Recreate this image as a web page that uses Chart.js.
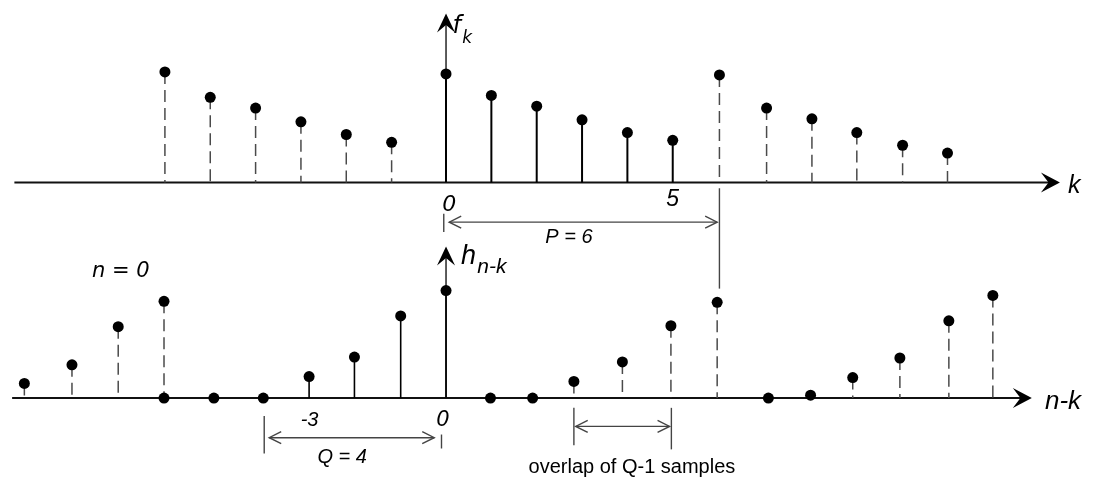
<!DOCTYPE html>
<html>
<head>
<meta charset="utf-8">
<script src="https://cdn.jsdelivr.net/npm/chart.js@4.4.1/dist/chart.umd.min.js"></script>
<style>
  html, body { margin: 0; padding: 0; background: #fff; }
  #wrap { width: 1096px; height: 484px; }
</style>
</head>
<body>
<div id="wrap"><canvas id="conv" width="1096" height="484"></canvas></div>
<script>
// f_k : one period solid, periodic copies dashed
const fLeftK = [-6.2, -5.2, -4.2, -3.2, -2.2, -1.2];
const fLeftVal = [11.3, 8.7, 7.6, 6.2, 4.9, 4.1];
const fMainK = [0, 1, 2, 3, 4, 5];
const fMainVal = [11.1, 8.9, 7.8, 6.4, 5.1, 4.3];
const fRightK = [6.03, 7.07, 8.07, 9.06, 10.07, 11.06];
const fRightVal = [11.0, 7.6, 6.5, 5.1, 3.8, 3.0];

// h_{n-k} for n = 0
const hLeftK = [-9.3, -8.25, -7.23, -6.22];
const hLeftVal = [1.5, 3.4, 7.3, 9.9];
const hMainK = [-3.02, -2.02, -1.0, 0];
const hMainVal = [2.2, 4.2, 8.4, 11.0];
const hMidK = [2.82, 3.89, 4.96, 5.98];
const hMidVal = [1.7, 3.7, 7.4, 9.8];
const hRightK = [8.97, 10.01, 11.09, 12.06];
const hRightVal = [2.1, 4.1, 7.9, 10.5];
const hZeroK = [-6.22, -5.12, -4.03, 0.98, 1.91, 7.11, 8.04];
const hZeroVal = [0, 0, 0, 0, 0, 0, 0.3];

// tick labels
const fTickK = [0.07, 5.0];
const fTickText = ['0', '5'];
const hTickK = [-3.01, -0.07];
const hTickText = ['-3', '0'];

const ITAL = '"Liberation Sans", Arial, sans-serif';
const DJV = '"DejaVu Sans", sans-serif';

function stems(ks, vals) {
  const d = [];
  ks.forEach((k, i) => { d.push({ x: k, y: vals[i] }, { x: k, y: 0 }, { x: k, y: null }); });
  return d;
}
function dots(ks, vals) {
  return ks.map((k, i) => ({ x: k, y: vals[i] }));
}
function stemSet(ks, vals, axis, dashed, width) {
  return {
    data: stems(ks, vals), yAxisID: axis, showLine: true, spanGaps: false,
    pointRadius: 0, borderColor: dashed ? '#4a4a4a' : '#000', borderWidth: width || 1.5,
    borderDash: dashed ? [12, 6] : [], order: 2
  };
}
function dotSet(ks, vals, axis) {
  return { data: dots(ks, vals), yAxisID: axis, pointRadius: 5.5, pointBackgroundColor: '#000',
    pointBorderWidth: 0, showLine: false, order: 0 };
}

function seg(ctx, x1, y1, x2, y2) {
  ctx.beginPath(); ctx.moveTo(x1, y1); ctx.lineTo(x2, y2); ctx.stroke();
}
// filled stealth arrow head, (dx,dy) is the pointing direction
function stealth(ctx, x, y, dx, dy, len, half) {
  const px = -dy, py = dx;
  ctx.beginPath();
  ctx.moveTo(x, y);
  ctx.lineTo(x - len * dx + half * px, y - len * dy + half * py);
  ctx.lineTo(x - 0.6 * len * dx, y - 0.6 * len * dy);
  ctx.lineTo(x - len * dx - half * px, y - len * dy - half * py);
  ctx.closePath();
  ctx.fill();
}
// open "<" style head
function openHead(ctx, x, y, dx, dy, len, half) {
  const px = -dy, py = dx;
  ctx.beginPath();
  ctx.moveTo(x - len * dx + half * px, y - len * dy + half * py);
  ctx.lineTo(x, y);
  ctx.lineTo(x - len * dx - half * px, y - len * dy - half * py);
  ctx.stroke();
}
function label(ctx, txt, x, y, font, align) {
  ctx.font = font;
  ctx.textAlign = align || 'center';
  ctx.textBaseline = 'alphabetic';
  ctx.fillText(txt, x, y);
}

const diagram = {
  id: 'diagram',
  beforeDatasetsDraw(chart) {
    const ctx = chart.ctx;
    const X = v => chart.scales.x.getPixelForValue(v);
    const T = v => chart.scales.yTop.getPixelForValue(v);
    const B = v => chart.scales.yBot.getPixelForValue(v);
    ctx.save();
    ctx.fillStyle = '#000';
    ctx.strokeStyle = '#111';
    ctx.lineWidth = 2;
    // horizontal axes
    seg(ctx, X(-9.52), T(0), X(13.3), T(0));
    stealth(ctx, X(13.54), T(0), 1, 0, 19, 10);
    seg(ctx, X(-9.57), B(0), X(12.7), B(0));
    stealth(ctx, X(12.92), B(0), 1, 0, 19, 10);
    // vertical axes
    ctx.strokeStyle = '#333';
    ctx.lineWidth = 1.6;
    seg(ctx, X(0), T(0), X(0), T(16.5));
    stealth(ctx, X(0), T(17.27), 0, -1, 19, 9);
    seg(ctx, X(0), B(0), X(0), B(14.8));
    stealth(ctx, X(0), B(15.5), 0, -1, 19, 9);
    // period marker P
    ctx.strokeStyle = '#444';
    ctx.lineWidth = 1.4;
    seg(ctx, X(6.03), T(-0.6), X(6.03), B(11.2));
    seg(ctx, X(-0.05), T(-3.2), X(-0.05), T(-5.07));
    seg(ctx, X(0.07), T(-4.07), X(5.98), T(-4.07));
    openHead(ctx, X(0.07), T(-4.07), -1, 0, 12, 6);
    openHead(ctx, X(5.98), T(-4.07), 1, 0, 12, 6);
    // Q marker
    seg(ctx, X(-4.01), B(-1.83), X(-4.01), B(-5.66));
    seg(ctx, X(-0.1), B(-3.73), X(-0.1), B(-5.16));
    seg(ctx, X(-3.9), B(-4.06), X(-0.26), B(-4.06));
    openHead(ctx, X(-3.9), B(-4.06), -1, 0, 12, 6);
    openHead(ctx, X(-0.26), B(-4.06), 1, 0, 12, 6);
    // overlap marker
    seg(ctx, X(2.82), B(-1.0), X(2.82), B(-4.83));
    seg(ctx, X(4.97), B(-1.0), X(4.97), B(-5.25));
    seg(ctx, X(2.86), B(-2.9), X(4.93), B(-2.9));
    openHead(ctx, X(2.86), B(-2.9), -1, 0, 12, 6);
    openHead(ctx, X(4.93), B(-2.9), 1, 0, 12, 6);
    ctx.restore();
  },
  afterDatasetsDraw(chart) {
    const ctx = chart.ctx;
    const X = v => chart.scales.x.getPixelForValue(v);
    const T = v => chart.scales.yTop.getPixelForValue(v);
    const B = v => chart.scales.yBot.getPixelForValue(v);
    ctx.save();
    ctx.fillStyle = '#000';
    // axis names
    label(ctx, 'f', X(0.14), T(15.3), 'italic 24px ' + DJV, 'left');
    label(ctx, 'k', X(0.36), T(14.25), 'italic 17px ' + DJV, 'left');
    label(ctx, 'k', X(13.72), T(-1.07), 'italic 25px ' + ITAL, 'left');
    label(ctx, 'h', X(0.33), B(13.67), 'italic 27px ' + ITAL, 'left');
    label(ctx, 'n-k', X(0.69), B(12.84), 'italic 21px ' + ITAL, 'left');
    label(ctx, 'n-k', X(13.21), B(-1.1), 'italic 26px ' + ITAL, 'left');
    // ticks
    label(ctx, fTickText[0], X(fTickK[0]), T(-2.9), 'italic 22px ' + DJV);
    label(ctx, fTickText[1], X(fTickK[1]), T(-2.4), 'italic 23px ' + ITAL);
    label(ctx, hTickText[0], X(hTickK[0]), B(-2.83), 'italic 20px ' + ITAL);
    label(ctx, hTickText[1], X(hTickK[1]), B(-2.9), 'italic 21px ' + DJV);
    // annotations
    label(ctx, 'P = 6', X(2.71), T(-6.17), 'italic 20px ' + ITAL);
    label(ctx, 'n = 0', X(-7.81), B(12.34), 'italic 21px ' + DJV, 'left');
    label(ctx, 'Q = 4', X(-2.29), B(-6.66), 'italic 20px ' + ITAL);
    label(ctx, 'overlap of Q-1 samples', X(4.1), B(-7.66), '20px ' + ITAL);
    ctx.restore();
  }
};

new Chart(document.getElementById('conv'), {
  type: 'scatter',
  data: {
    datasets: [
      stemSet(fLeftK, fLeftVal, 'yTop', true),
      stemSet(fMainK, fMainVal, 'yTop', false, 2),
      stemSet(fRightK, fRightVal, 'yTop', true),
      stemSet(hLeftK, hLeftVal, 'yBot', true),
      stemSet(hMainK, hMainVal, 'yBot', false, 1.6),
      stemSet(hMidK, hMidVal, 'yBot', true),
      stemSet(hRightK, hRightVal, 'yBot', true),
      dotSet(fLeftK, fLeftVal, 'yTop'),
      dotSet(fMainK, fMainVal, 'yTop'),
      dotSet(fRightK, fRightVal, 'yTop'),
      dotSet(hLeftK, hLeftVal, 'yBot'),
      dotSet(hMainK, hMainVal, 'yBot'),
      dotSet(hMidK, hMidVal, 'yBot'),
      dotSet(hRightK, hRightVal, 'yBot'),
      dotSet(hZeroK, hZeroVal, 'yBot')
    ]
  },
  options: {
    responsive: false,
    animation: false,
    devicePixelRatio: 1,
    events: [],
    layout: { padding: 0 },
    plugins: { legend: { display: false }, tooltip: { enabled: false } },
    scales: {
      x: { type: 'linear', min: -9.716, max: 14.214, display: false },
      yTop: { type: 'linear', position: 'left', min: -30.3, max: 18.1, display: false },
      yBot: { type: 'linear', position: 'left', min: -8.23, max: 40.17, display: false }
    }
  },
  plugins: [diagram]
});
</script>
</body>
</html>
